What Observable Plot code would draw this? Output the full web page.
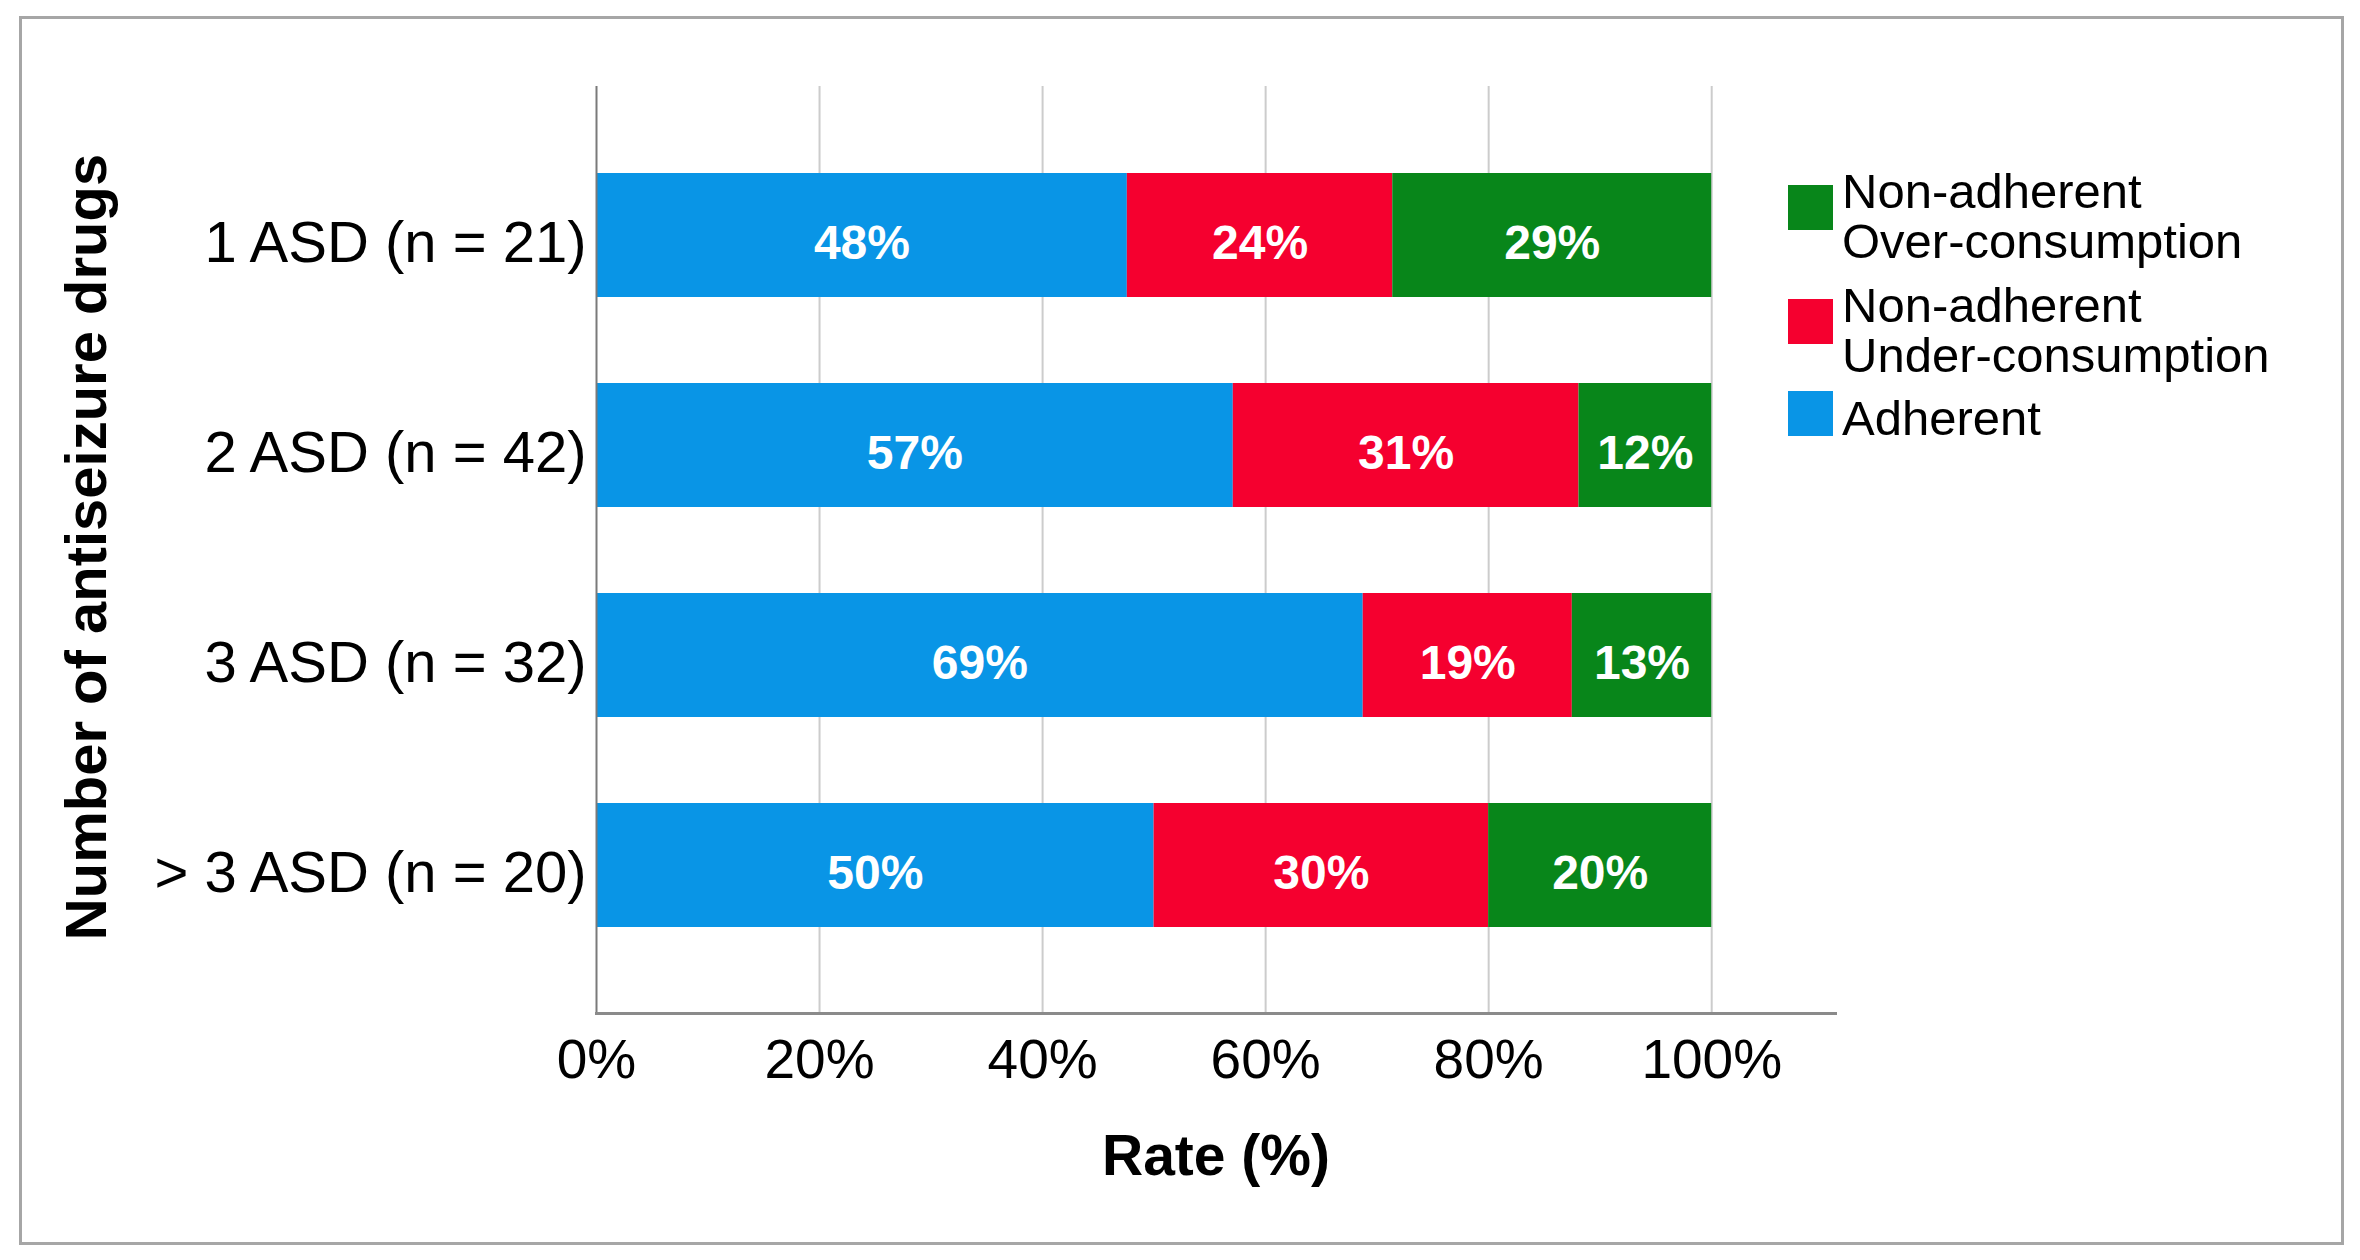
<!DOCTYPE html>
<html>
<head>
<meta charset="utf-8">
<script src="https://cdn.jsdelivr.net/npm/d3@7"></script>
<script src="https://cdn.jsdelivr.net/npm/@observablehq/plot@0.6"></script>
<style>
  html, body { margin: 0; padding: 0; background: #fff; }
  #wrap { position: relative; width: 2360px; height: 1260px; overflow: hidden; background: #fff;
          font-family: "Liberation Sans", Arial, Helvetica, sans-serif; }
  #border { position: absolute; left: 19px; top: 16px; width: 2325px; height: 1229px;
            box-sizing: border-box; border: 3px solid #a6a6a6; pointer-events: none; }
  #chart, #legend { position: absolute; left: 0; top: 0; }
</style>
</head>
<body>
<div id="wrap">
  <div id="chart"></div>
  <svg id="legend" width="2360" height="1260"></svg>
  <div id="border"></div>
</div>
<script>
// ---- Data ----
const categories = ["1 ASD (n = 21)", "2 ASD (n = 42)", "3 ASD (n = 32)", "> 3 ASD (n = 20)"];
const seriesNames = ["Adherent", "Non-adherent Under-consumption", "Non-adherent Over-consumption"];
const adherent = [47.6, 57.1, 68.75, 50];
const underConsumption = [23.8, 31.0, 18.75, 30];
const overConsumption = [28.6, 11.9, 12.5, 20];
const seriesColors = ["#0995e6", "#f5002f", "#08861a"];
const xTicks = [0, 20, 40, 60, 80, 100];
const xMax = 111.1;
const legendItems = [
  {series: "Non-adherent Over-consumption", lines: ["Non-adherent", "Over-consumption"]},
  {series: "Non-adherent Under-consumption", lines: ["Non-adherent", "Under-consumption"]},
  {series: "Adherent", lines: ["Adherent"]}
];
const yTitle = "Number of antiseizure drugs";
const xTitle = "Rate (%)";

// ---- Build tidy table ----
const seriesValues = [adherent, underConsumption, overConsumption];
const data = [];
categories.forEach((c, i) => {
  seriesNames.forEach((s, j) => data.push({category: c, series: s, value: seriesValues[j][i]}));
});

const font = '"Liberation Sans", Arial, Helvetica, sans-serif';

const chart = Plot.plot({
  width: 2360,
  height: 1260,
  marginLeft: 596,
  marginRight: 525,
  marginTop: 86,
  marginBottom: 247,
  style: {fontFamily: font, background: "transparent", color: "#000"},
  x: {domain: [0, xMax], axis: null},
  y: {domain: categories, padding: 0.41, axis: null},
  color: {domain: seriesNames, range: seriesColors},
  marks: [
    Plot.ruleX(xTicks.slice(1), {stroke: "#cccccc", strokeWidth: 2}),
    Plot.barX(data, Plot.stackX({x: "value", y: "category", fill: "series", z: "series",
      insetTop: 0, insetBottom: 0, insetLeft: 0, insetRight: 0})),
    Plot.text(data, Plot.stackX({x: "value", y: "category", z: "series",
      text: d => Math.round(d.value) + "%", fill: "white", fontWeight: "bold", fontSize: 48, dy: 8})),
    Plot.ruleX([0], {stroke: "#7a7a7a", strokeWidth: 2}),
    Plot.frame({anchor: "bottom", stroke: "#8a8a8a", strokeWidth: 3}),
    Plot.axisX({ticks: xTicks, tickFormat: d => d + "%", tickSize: 0, tickPadding: 25,
      fontSize: 55, label: null}),
    Plot.axisY({tickSize: 0, tickPadding: 10, fontSize: 58, label: null, dy: 8}),
    Plot.text([yTitle], {frameAnchor: "left", textAnchor: "middle", dx: -509, dy: -3, rotate: -90,
      fontWeight: "bold", fontSize: 58, fill: "#000"}),
    Plot.text([xTitle], {frameAnchor: "bottom", dy: 143, lineAnchor: "middle",
      fontWeight: "bold", fontSize: 57, fill: "#000"})
  ]
});
document.getElementById("chart").appendChild(chart);

// ---- Legend (right side) ----
const colorOf = s => seriesColors[seriesNames.indexOf(s)];
const lg = d3.select("#legend").style("font-family", font);
const itemTop = [208, 322, 435];   // first-line baselines
const swatchY = [185, 299, 391];
legendItems.forEach((item, i) => {
  lg.append("rect").attr("x", 1788).attr("y", swatchY[i]).attr("width", 45).attr("height", 45)
    .attr("fill", colorOf(item.series));
  item.lines.forEach((t, k) => {
    lg.append("text").attr("x", 1842).attr("y", itemTop[i] + k * 50)
      .attr("font-size", 49).attr("textLength", null).attr("fill", "#000").text(t);
  });
});
</script>
</body>
</html>
